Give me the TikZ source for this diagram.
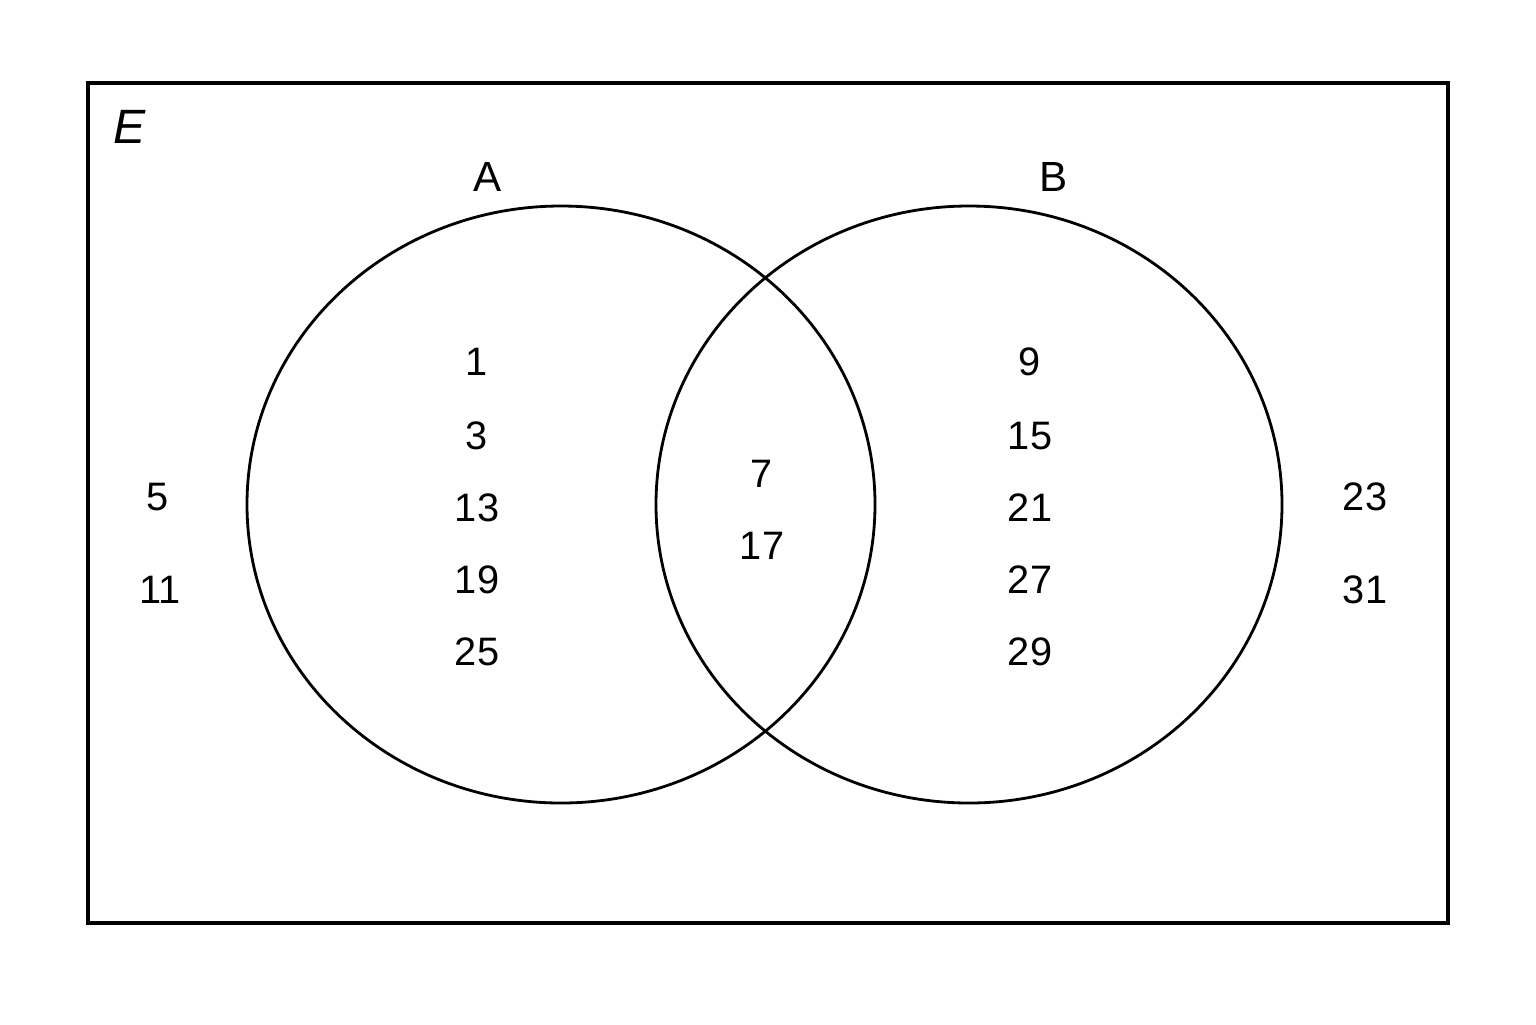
\documentclass[tikz,border=0pt]{standalone}
\usepackage{fontspec}
\setmainfont{Liberation Sans}
\begin{document}
\begin{tikzpicture}[font=\fontsize{11.3}{13}\selectfont]
\useasboundingbox (0,0) rectangle (15.36,-10.24);
\draw[line width=1.1pt] (0.88,-0.83) rectangle (14.48,-9.23);
\coordinate (cA) at (5.61,-5.045);
\coordinate (cB) at (9.69,-5.045);
\draw[line width=0.8pt] (cA) ellipse[x radius=3.14,y radius=2.985];
\draw[line width=0.8pt] (cB) ellipse[x radius=3.13,y radius=2.985];
\node[font=\fontsize{13.7}{16}\selectfont] (E) at (1.30,-1.27) {\itshape E};
\node[font=\fontsize{12}{14}\selectfont] (labA) at (4.88,-1.77) {A};
\node[font=\fontsize{12}{14}\selectfont] (labB) at (10.54,-1.77) {B};
\foreach \n/\y in {1/3.62,3/4.36,13/5.08,19/5.80,25/6.52}
  \node (a\n) at (4.77,-\y) {\n};
\node (ab7) at (7.62,-4.74) {7};
\node (ab17) at (7.62,-5.46) {17};
\foreach \n/\y in {9/3.62,15/4.36,21/5.08,27/5.80,29/6.52}
  \node (b\n) at (10.30,-\y) {\n};
\node (o5) at (1.58,-4.97) {5};
\node (o11) at (1.60,-5.90) {11};
\node (o23) at (13.65,-4.97) {23};
\node (o31) at (13.65,-5.90) {31};
\end{tikzpicture}
\end{document}
